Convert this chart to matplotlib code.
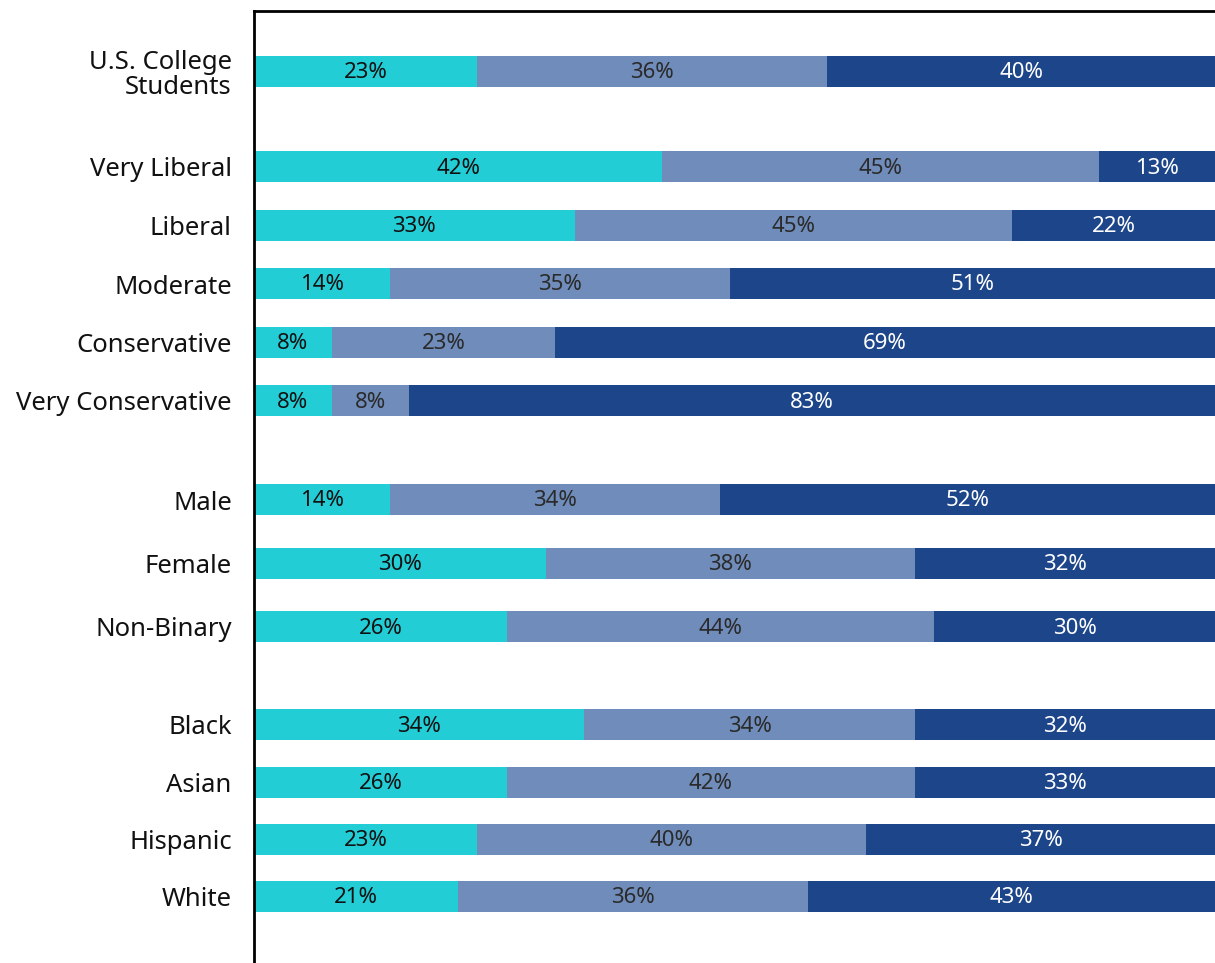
import numpy as np
import matplotlib.pyplot as plt

categories = ["U.S. College\nStudents",
              "Very Liberal", "Liberal", "Moderate", "Conservative", "Very Conservative",
              "Male", "Female", "Non-Binary",
              "Black", "Asian", "Hispanic", "White"]
first = [23, 42, 33, 14, 8, 8, 14, 30, 26, 34, 26, 23, 21]
middle = [36, 45, 45, 35, 23, 8, 34, 38, 44, 34, 42, 40, 36]
last = [40, 13, 22, 51, 69, 83, 52, 32, 30, 32, 33, 37, 43]

colors = ["#22CDD6", "#6F8CBA", "#1D4589"]
text_colors = ["#111111", "#2a2a2a", "#ffffff"]

# row layout (pixel-like units from the top): group start and step
groups = [(72, 0, 1), (167, 58.5, 5), (500, 63.5, 3), (725, 57.3, 4)]
ypos = []
for start, step, n in groups:
    ypos += [start + i * step for i in range(n)]
ypos = np.array(ypos)

plt.rcParams['font.family'] = ['Noto Sans', 'DejaVu Sans']

W, H = 1215, 963
fig = plt.figure(figsize=(W / 100, H / 100), dpi=100)
ax = fig.add_axes([254 / W, 0, 1 - 254 / W, (H - 11) / H])
xmax = 98.9

left = np.zeros(len(categories))
for vals, c, tc in zip([first, middle, last], colors, text_colors):
    vals = np.array(vals, dtype=float)
    ax.barh(ypos, vals, left=left, height=31, color=c, linewidth=0)
    for y, l, v in zip(ypos, left, vals):
        right = min(l + v, xmax)
        ax.text((l + right) / 2, y + 1, f"{int(v)}%", ha="center", va="center",
                fontsize=16, color=tc)
    left += vals

ax.set_xlim(0, xmax)
ax.set_ylim(H, 11)
ax.set_xticks([])
ax.set_yticks(ypos)
ax.set_yticklabels(categories, fontsize=18.5, color="#111111", linespacing=1.02)
ax.tick_params(axis="y", length=0, pad=16)
for s in ["right", "bottom"]:
    ax.spines[s].set_visible(False)
for s in ["left", "top"]:
    ax.spines[s].set_linewidth(2)
    ax.spines[s].set_color("#000000")

fig.savefig("out.png", dpi=100)
